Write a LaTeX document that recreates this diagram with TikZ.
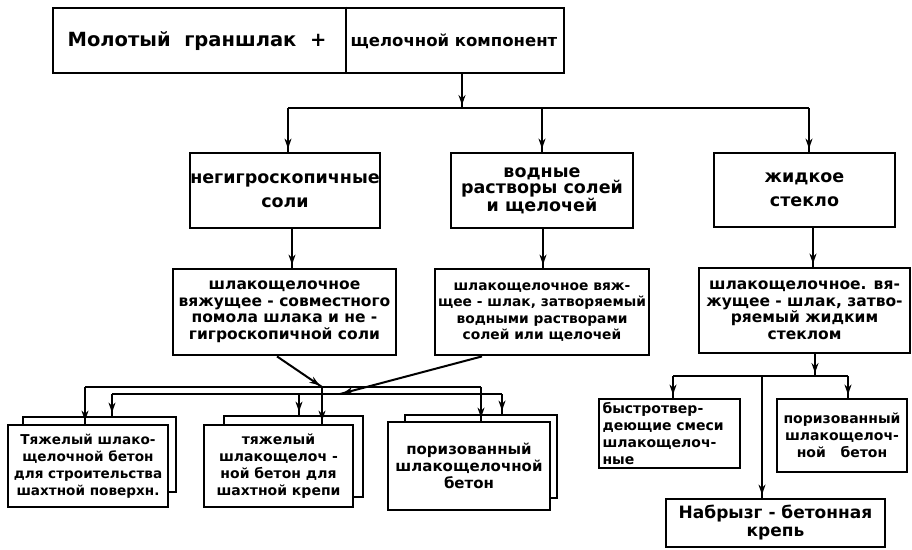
\documentclass[tikz,border=0pt]{standalone}
\usepackage{fontspec}
\setmainfont{DejaVu Sans}
\usetikzlibrary{arrows.meta,decorations.markings,calc}
\tikzset{
  box/.style={draw, line width=2.8pt, fill=white, inner sep=0pt, align=center},
  conn/.style={line width=2pt},
  arr/.style={conn, postaction={decorate}, decoration={markings, mark=at position -3pt with {\arrow{Stealth[length=10pt,width=7pt]}}}},
  ftop/.style={font=\bfseries\fontsize{19.5}{20}\selectfont},
  ftwo/.style={font=\bfseries\fontsize{17.5}{16}\selectfont},
  fthree/.style={font=\bfseries\fontsize{15.5}{16.5}\selectfont},
  fbot/.style={font=\bfseries\fontsize{14}{17}\selectfont},
}
\begin{document}
\begin{tikzpicture}[x=1pt,y=-1pt]
\useasboundingbox (0,0) rectangle (912,549);
% top box
\node[box, minimum width=511pt, minimum height=65pt] (top) at (308.5,40.5) {};
\coordinate (dv) at (346,0);
\draw[line width=2.4pt] (top.north -| dv) -- (top.south -| dv);
\node[ftop] (topL) at (197,41) {Молотый\ \ граншлак\ \ +};
\node[font=\bfseries\fontsize{16.5}{18}\selectfont] (topR) at (454,41) {щелочной компонент};
% tier 2
\node[box, ftwo, minimum width=190pt, minimum height=75pt] (t2a) at (285,190.5) {негигроскопичные\\[8pt]соли};
\node[box, ftwo, minimum width=182pt, minimum height=75pt] (t2b) at (542,190.5) {водные\\растворы солей\\и щелочей};
\node[box, ftwo, minimum width=181pt, minimum height=74pt] (t2c) at (804.5,190) {жидкое\\[8pt]стекло};
% tier 3
\node[box, fthree, minimum width=223pt, minimum height=86pt] (t3a) at (284.5,312) {шлакощелочное\\вяжущее - совместного\\помола шлака и не -\\гигроскопичной соли};
\node[box, font=\bfseries\fontsize{13.8}{16.5}\selectfont, minimum width=214pt, minimum height=86pt] (t3b) at (542,312) {шлакощелочное вяж-\\щее - шлак, затворяемый\\водными растворами\\солей или щелочей};
\node[box, fthree, minimum width=211pt, minimum height=85pt] (t3c) at (804.5,310.5) {шлакощелочное. вя-\\жущее - шлак, затво-\\ряемый жидким\\стеклом};
% bottom-left double boxes
\node[box, minimum width=153pt, minimum height=75pt] (Ab) at (99.5,454.5) {};
\node[box, font=\bfseries\fontsize{13.6}{17}\selectfont, minimum width=160pt, minimum height=82pt] (Af) at (88,466) {Тяжелый шлако-\\щелочной бетон\\для строительства\\шахтной поверхн.};
\node[box, minimum width=139pt, minimum height=81pt] (Bb) at (293.5,456.5) {};
\node[box, fbot, minimum width=149pt, minimum height=82pt] (Bf) at (278.5,466) {тяжелый\\шлакощелоч -\\ной бетон для\\шахтной крепи};
\node[box, minimum width=152pt, minimum height=83pt] (Cb) at (481,456.5) {};
\node[box, font=\bfseries\fontsize{15}{17}\selectfont, minimum width=162pt, minimum height=88pt] (Cf) at (469,466) {поризованный\\шлакощелочной\\бетон};
% bottom-right boxes
\node[box, fbot, minimum width=141pt, minimum height=69pt, text width=134pt, align=left] (R1) at (669.5,433.5) {быстротвер-\\деющие смеси\\шлакощелоч-\\ные};
\node[box, fbot, minimum width=130pt, minimum height=73pt] (R2) at (842,435.5) {поризованный\\шлакощелоч-\\ной\ \ \ бетон};
\node[box, font=\bfseries\fontsize{17}{18}\selectfont, minimum width=219pt, minimum height=48pt] (R3) at (775.5,523) {Набрызг - бетонная\\крепь};
% connectors: top to tier 2
\coordinate (j0) at (462,108);
\coordinate (b1L) at (288,108);
\coordinate (b1M) at (542,108);
\coordinate (b1R) at (809,108);
\draw[arr] (top.south -| j0) -- (j0);
\draw[conn] (b1L) -- (b1R);
\draw[arr] (b1L) -- (b1L |- t2a.north);
\draw[arr] (b1M) -- (b1M |- t2b.north);
\draw[arr] (b1R) -- (b1R |- t2c.north);
% tier 2 to tier 3
\coordinate (c1) at (292,0);
\coordinate (c2) at (543,0);
\coordinate (c3) at (813,0);
\draw[arr] (t2a.south -| c1) -- (t3a.north -| c1);
\draw[arr] (t2b.south -| c2) -- (t3b.north -| c2);
\draw[arr] (t2c.south -| c3) -- (t3c.north -| c3);
% left cluster: upper bus
\coordinate (d1) at (277,0);
\coordinate (J1) at (322,387);
\coordinate (u1) at (85,387);
\coordinate (u2) at (481,387);
\draw[arr] (t3a.south -| d1) -- (J1);
\draw[conn] (u1) -- (u2);
\draw[arr] (u1) -- (u1 |- Af.north);
\draw[arr] (J1) -- (J1 |- Bf.north);
\draw[arr] (u2) -- (u2 |- Cf.north);
% left cluster: lower bus
\coordinate (d2) at (482,0);
\coordinate (J2) at (340,394);
\coordinate (l1) at (112,394);
\coordinate (l2) at (299,394);
\coordinate (l3) at (502,394);
\draw[arr] (t3b.south -| d2) -- (J2);
\draw[conn] (l1) -- (l3);
\draw[arr] (l1) -- (l1 |- Ab.north);
\draw[arr] (l2) -- (l2 |- Bb.north);
\draw[arr] (l3) -- (l3 |- Cb.north);
% right cluster
\coordinate (c4) at (815,0);
\coordinate (k0) at (815,376);
\coordinate (kL) at (673,376);
\coordinate (kM) at (762,376);
\coordinate (kR) at (848,376);
\draw[arr] (t3c.south -| c4) -- (k0);
\draw[conn] (kL) -- (kR);
\draw[arr] (kL) -- (kL |- R1.north);
\draw[arr] (kR) -- (kR |- R2.north);
\draw[arr] (kM) -- (kM |- R3.north);
\end{tikzpicture}
\end{document}
